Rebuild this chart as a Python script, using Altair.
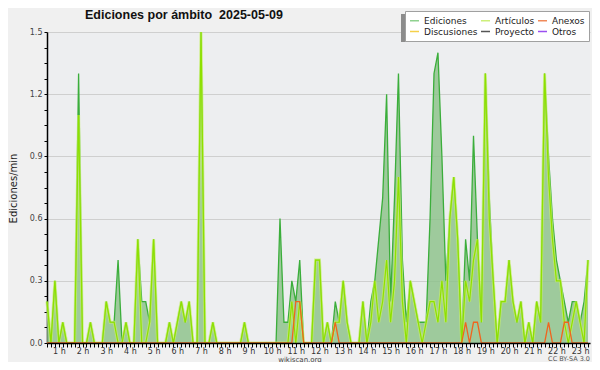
import altair as alt
import pandas as pd

# 10-minute slots; values are edits per minute
ediciones = [
    0.2, 0, 0.3, 0, 0.1, 0, 0, 0, 1.3, 0,
    0, 0.1, 0, 0, 0, 0.2, 0.1, 0.1, 0.4, 0,
    0.1, 0, 0, 0.5, 0.2, 0.2, 0.1, 0.5, 0, 0,
    0, 0.1, 0, 0.1, 0.2, 0.1, 0.2, 0, 0, 1.5,
    0, 0, 0.1, 0, 0, 0, 0, 0, 0, 0,
    0.1, 0, 0, 0, 0, 0, 0, 0, 0, 0.6,
    0.1, 0.1, 0.3, 0.2, 0.4, 0, 0, 0, 0.4, 0.4,
    0, 0.1, 0, 0.2, 0.1, 0.3, 0.1, 0, 0, 0,
    0.2, 0, 0.2, 0.3, 0.5, 0.7, 1.2, 0.2, 0.7, 1.3,
    0.4, 0.1, 0.3, 0.2, 0.1, 0.1, 0.1, 0.6, 1.3, 1.4,
    0.9, 0.3, 0.6, 0.8, 0.5, 0, 0.5, 0.3, 1.0, 0.5,
    0.1, 1.3, 0.7, 0.3, 0, 0.2, 0.2, 0.4, 0.2, 0.1,
    0.2, 0, 0.1, 0, 0.2, 0.1, 1.3, 0.9, 0.6, 0.4,
    0.3, 0.2, 0.1, 0.2, 0.2, 0.1, 0.2, 0.4,
]
articulos = [
    0.2, 0, 0.3, 0, 0.1, 0, 0, 0, 1.1, 0,
    0, 0.1, 0, 0, 0, 0.2, 0.1, 0.1, 0, 0,
    0.1, 0, 0, 0.5, 0, 0, 0.1, 0.5, 0, 0,
    0, 0.1, 0, 0.1, 0.2, 0.1, 0.2, 0, 0, 1.5,
    0, 0, 0.1, 0, 0, 0, 0, 0, 0, 0,
    0.1, 0, 0, 0, 0, 0, 0, 0, 0, 0,
    0, 0, 0.2, 0, 0.2, 0, 0, 0, 0.4, 0.4,
    0, 0.1, 0, 0.1, 0.1, 0.3, 0.1, 0, 0, 0,
    0.2, 0, 0.1, 0.3, 0.1, 0.2, 0.4, 0.1, 0.3, 0.8,
    0.2, 0, 0.3, 0.2, 0.1, 0, 0.1, 0.2, 0.2, 0.1,
    0.3, 0.1, 0.6, 0.8, 0.5, 0, 0.3, 0.2, 0.4, 0.5,
    0.1, 1.3, 0.6, 0.3, 0, 0.2, 0.2, 0.4, 0.2, 0.1,
    0.2, 0, 0.1, 0, 0.2, 0.1, 1.3, 0.8, 0.5, 0.3,
    0.3, 0.1, 0, 0.1, 0.2, 0.1, 0, 0.4,
]
anexos = [
    0, 0, 0, 0, 0, 0, 0, 0, 0, 0,
    0, 0, 0, 0, 0, 0, 0, 0, 0, 0,
    0, 0, 0, 0, 0, 0, 0, 0, 0, 0,
    0, 0, 0, 0, 0, 0, 0, 0, 0, 0,
    0, 0, 0, 0, 0, 0, 0, 0, 0, 0,
    0, 0, 0, 0, 0, 0, 0, 0, 0, 0,
    0, 0, 0, 0.2, 0.2, 0, 0, 0, 0, 0,
    0, 0, 0, 0.1, 0, 0, 0, 0, 0, 0,
    0, 0, 0, 0, 0, 0, 0, 0, 0, 0,
    0, 0, 0, 0, 0, 0, 0, 0, 0, 0,
    0, 0, 0, 0, 0, 0, 0.1, 0, 0.1, 0.1,
    0, 0, 0, 0, 0, 0, 0, 0, 0, 0,
    0, 0, 0, 0, 0, 0, 0, 0.1, 0, 0,
    0, 0.1, 0.1, 0, 0, 0, 0, 0,
]
series_names = ["Ediciones", "Artículos", "Anexos", "Discusiones", "Proyecto", "Otros"]
legend_colors = ["#8fd18f", "#cdef7a", "#f08a5a", "#f5d04a", "#555555", "#9b4ff0"]
title_text = "Ediciones por ámbito\u00a0\u00a02025-05-09"
y_title = "Ediciones/min"
footer_left = "wikiscan.org"
footer_right = "CC BY-SA 3.0"

slots = list(range(len(ediciones)))
df = pd.DataFrame({"slot": slots, "ediciones": ediciones,
                   "articulos": articulos, "anexos": anexos})

xscale = alt.Scale(domain=[0, 137.5], nice=False, zero=False)
yscale = alt.Scale(domain=[0, 1.5], nice=False)
yvals = [round(k * 0.075, 3) for k in range(21)]
major_test = "abs(datum.value*10/3 - round(datum.value*10/3)) < 0.01"

x_axis = alt.Axis(
    values=slots,
    labelExpr="(datum.value + 3) % 6 == 0 ? ((datum.value + 3) / 6) + ' h' : ''",
    title=None, grid=False, tickSize=4, tickColor="#000", tickWidth=1,
    domainColor="#000", domainWidth=1.5, labelFont="DejaVu Sans", labelFontSize=8,
    labelColor="#333", labelPadding=0, labelOverlap=False, labelFlush=False, zindex=1,
)
y_axis = alt.Axis(
    values=yvals,
    labelExpr=major_test + " ? format(datum.value, '.1f') : ''",
    title=y_title, grid=True, gridColor="#cfcfcf",
    gridOpacity={"condition": {"test": major_test, "value": 1}, "value": 0},
    tickSize=3, tickColor="#000", domainColor="#000", domainWidth=1.5,
    labelFont="DejaVu Sans", labelFontSize=8, labelColor="#444", labelPadding=2,
    labelOverlap=False, labelFlush=False,
    titleFont="DejaVu Sans", titleFontSize=10, titleFontWeight="normal", titleColor="#222",
    titleX=-34, titleY=156, titleAngle=270, titleAlign="center", titleBaseline="middle",
)

X = alt.X("slot:Q", scale=xscale, axis=x_axis)


def ych(field):
    return alt.Y(field, type="quantitative", scale=yscale, axis=y_axis)


base = alt.Chart(df)
area = base.mark_area(color="#89c187", opacity=0.8).encode(x=X, y=ych("ediciones"))
ed_line = base.mark_line(color="#3bae3b", strokeWidth=1.3).encode(x=X, y=ych("ediciones"))
art_glow = base.mark_line(color="#c6ef6a", strokeWidth=3, opacity=0.7).encode(
    x=X, y=ych("articulos"))
art_line = base.mark_line(color="#8ee000", strokeWidth=1.2).encode(x=X, y=ych("articulos"))
anx_line = base.mark_line(color="#f0641e", strokeWidth=1.3).encode(x=X, y=ych("anexos"))

legend_df = pd.DataFrame({"serie": series_names, "slot": [0] * len(series_names),
                          "ediciones": [0] * len(series_names)})
legend_layer = alt.Chart(legend_df).mark_line(opacity=0).encode(
    x=X, y=ych("ediciones"),
    color=alt.Color("serie:N", sort=series_names,
                    scale=alt.Scale(domain=series_names, range=legend_colors),
                    legend=alt.Legend(
                        orient="none", legendX=358, legendY=-21, columns=3,
                        direction="horizontal", title=None, fillColor="white",
                        strokeColor="#a0a0a0", padding=4, labelFont="DejaVu Sans",
                        labelFontSize=9, labelColor="#222", symbolType="stroke",
                        symbolSize=81, symbolStrokeWidth=1.5, symbolOpacity=1,
                        labelOffset=4, columnPadding=0, rowPadding=-2, zindex=1,
                    )),
)
shadow = alt.Chart(pd.DataFrame({"a": [0]})).mark_rect(color="#8c8c8c").encode(
    x=alt.value(354), x2=alt.value(542), y=alt.value(-18), y2=alt.value(10)
)
foot_l = alt.Chart(pd.DataFrame({"t": [footer_left]})).mark_text(
    font="DejaVu Sans", fontSize=7, color="#444", align="center", baseline="middle"
).encode(text="t:N", x=alt.value(253), y=alt.value(327.5))
foot_r = alt.Chart(pd.DataFrame({"t": [footer_right]})).mark_text(
    font="DejaVu Sans", fontSize=6.5, color="#555", align="right", baseline="middle"
).encode(text="t:N", x=alt.value(543), y=alt.value(327))

chart = alt.layer(
    shadow, area, ed_line, art_glow, art_line, anx_line, legend_layer, foot_l, foot_r
).properties(
    width=543, height=311,
    padding={"left": 39, "top": 24, "right": 2, "bottom": 19},
    autosize=alt.AutoSizeParams(type="none"),
    title=alt.TitleParams(title_text, anchor="start", frame="group", dx=38, dy=21.5,
                          offset=11, font="Liberation Sans", fontSize=12.5,
                          fontWeight="bold", color="#111"),
).configure(background="#f0f0f0").configure_view(fill="#edeef0", stroke=None)

chart.save("out.html", embed_options={"renderer": "svg", "actions": False})
